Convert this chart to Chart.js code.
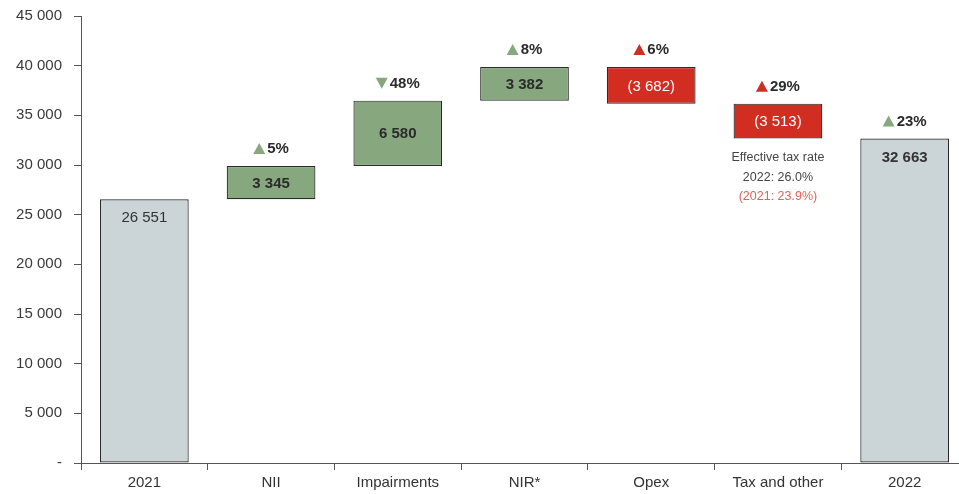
<!DOCTYPE html>
<html>
<head>
<meta charset="utf-8">
<script src="https://cdn.jsdelivr.net/npm/chart.js@4"></script>
<style>
  html, body { margin: 0; padding: 0; background: #fff; overflow: hidden; }
  #wrap { width: 968px; height: 499px; margin-top: -5px; }
</style>
</head>
<body>
<div id="wrap"><canvas id="bridge"></canvas></div>
<script>
const categories = ['2021', 'NII', 'Impairments', 'NIR*', 'Opex', 'Tax and other', '2022'];
const changes = [26551, 3345, 6580, 3382, -3682, -3513, 32663];
const isTotal = [true, false, false, false, false, false, true];
const valueLabels = ['26 551', '3 345', '6 580', '3 382', '(3 682)', '(3 513)', '32 663'];
const pctLabels = ['', '5%', '48%', '8%', '6%', '29%', '23%'];
const pctUp = [true, true, false, true, true, true, true];
const pctGood = [true, true, true, true, false, false, true];
const taxNote = ['Effective tax rate', '2022: 26.0%', '(2021: 23.9%)'];
const yTicks = [0, 5000, 10000, 15000, 20000, 25000, 30000, 35000, 40000, 45000];

const GREY = '#cbd4d6', GREEN = '#87a77e', RED = '#d12d20';
const FONT = "'Liberation Sans', Arial, sans-serif";

// floating bars from running total
let run = 0;
const ranges = changes.map((v, i) => {
  if (isTotal[i]) { run = v; return [0, v]; }
  const r = [run, run + v];
  run += v;
  return r;
});
const fills = changes.map((v, i) => isTotal[i] ? GREY : (v >= 0 ? GREEN : RED));

const labelPlugin = {
  id: 'bridgeLabels',
  afterDatasetsDraw(chart) {
    const ctx = chart.ctx;
    const meta = chart.getDatasetMeta(0);
    const y = chart.scales.y;
    ctx.save();
    meta.data.forEach((bar, i) => {
      const top = y.getPixelForValue(Math.max(ranges[i][0], ranges[i][1]));
      const bottom = y.getPixelForValue(Math.min(ranges[i][0], ranges[i][1]));
      const cx = bar.x;
      ctx.textBaseline = 'middle';
      ctx.textAlign = 'center';
      // value inside the bar
      if (isTotal[i]) {
        ctx.font = (i === 0 ? '' : 'bold ') + '15px ' + FONT;
        ctx.fillStyle = '#333';
        ctx.fillText(valueLabels[i], cx, top + 19);
      } else if (changes[i] < 0) {
        ctx.font = '15px ' + FONT;
        ctx.fillStyle = '#fff';
        ctx.fillText(valueLabels[i], cx, (top + bottom) / 2 + 1);
      } else {
        ctx.font = 'bold 15px ' + FONT;
        ctx.fillStyle = '#2b2b2b';
        ctx.fillText(valueLabels[i], cx, (top + bottom) / 2 + 1);
      }
      // percentage with arrow
      if (pctLabels[i]) {
        ctx.font = 'bold 15px ' + FONT;
        const tw = ctx.measureText(pctLabels[i]).width;
        const triW = 12, gap = 2;
        const total = triW + gap + tw;
        const x0 = cx - total / 2;
        const ly = top - 17;
        ctx.fillStyle = pctGood[i] ? GREEN : RED;
        ctx.beginPath();
        if (pctUp[i]) {
          ctx.moveTo(x0, ly + 5); ctx.lineTo(x0 + triW, ly + 5); ctx.lineTo(x0 + triW / 2, ly - 6);
        } else {
          ctx.moveTo(x0, ly - 6); ctx.lineTo(x0 + triW, ly - 6); ctx.lineTo(x0 + triW / 2, ly + 5);
        }
        ctx.closePath();
        ctx.fill();
        ctx.fillStyle = '#2b2b2b';
        ctx.textAlign = 'left';
        ctx.fillText(pctLabels[i], x0 + triW + gap, ly);
      }
      // tax note
      if (i === 5) {
        ctx.textAlign = 'center';
        ctx.font = '12.5px ' + FONT;
        taxNote.forEach((t, k) => {
          ctx.fillStyle = k === 2 ? '#e0625a' : '#444';
          ctx.fillText(t, cx, bottom + 19 + k * 19.5);
        });
      }
    });
    ctx.restore();
  }
};

new Chart(document.getElementById('bridge').getContext('2d'), {
  type: 'bar',
  data: {
    labels: categories,
    datasets: [{
      data: ranges,
      backgroundColor: fills,
      borderColor: '#2a2a2a',
      borderWidth: 1.2,
      borderSkipped: false,
      barPercentage: 0.7,
      categoryPercentage: 1
    }]
  },
  options: {
    responsive: true,
    maintainAspectRatio: false,
    animation: false,
    layout: { padding: { top: 1, right: 0, bottom: 0, left: 0 } },
    plugins: { legend: { display: false }, tooltip: { enabled: false } },
    scales: {
      x: {
        grid: { display: true, drawOnChartArea: false, drawTicks: true, tickLength: 7, color: '#555', offset: true },
        border: { display: true, color: '#555', width: 1 },
        ticks: { color: '#333', font: { family: FONT, size: 15 }, padding: 4 },
        afterFit(scale) { scale.height = 31; }
      },
      y: {
        min: 0,
        max: 45000,
        afterBuildTicks(scale) { scale.ticks = yTicks.map(v => ({ value: v })); },
        grid: { display: true, drawOnChartArea: false, drawTicks: true, tickLength: 7, color: '#555' },
        border: { display: true, color: '#555', width: 1 },
        ticks: {
          color: '#3a3a3a',
          font: { family: FONT, size: 15 },
          padding: 12,
          callback: v => v === 0 ? '-' : v.toLocaleString('en-US').replace(/,/g, ' ')
        },
        afterFit(scale) { scale.width = 81; }
      }
    }
  },
  plugins: [labelPlugin]
});
</script>
</body>
</html>
